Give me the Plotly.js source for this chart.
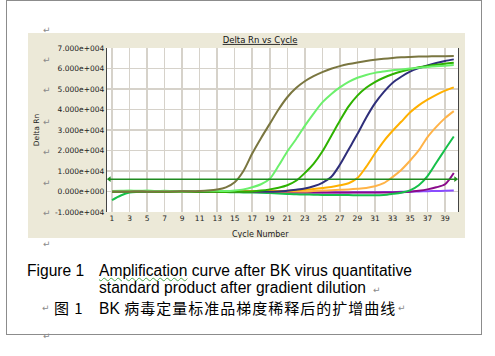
<!DOCTYPE html>
<html>
<head>
<meta charset="utf-8">
<script src="https://cdn.plot.ly/plotly-3.0.1.min.js"></script>
<style>
  html, body { margin:0; padding:0; background:#fff; }
  #page { position:relative; width:495px; height:356px; overflow:hidden; background:#fff; }
  #frame { position:absolute; left:6px; top:0px; width:476px; height:335px; border:1px solid #8c8c8c; box-sizing:border-box; }
  #chart { position:absolute; left:28px; top:33px; width:437px; height:205px; }
  .pm { position:absolute; font-family:"DejaVu Sans"; font-size:9px; color:#8a8a8a; line-height:10px; z-index:5; }
  .cap { position:absolute; font-family:"Liberation Sans", Arial, sans-serif; font-size:15.6px; color:#000; white-space:nowrap; line-height:16px; height:16px; }
  .cjk { font-family:"Noto Sans CJK SC", sans-serif; font-size:15px; letter-spacing:1px; }
  .wavy { text-decoration: underline wavy #4aa84a; text-decoration-thickness:1px; text-underline-offset:1px; }
</style>
</head>
<body>
<div id="page">
  <div id="frame"></div>
  <div id="chart"></div>
  <span class="pm" style="left:43px; top:25px;">↵</span>
  <span class="pm" style="left:43px; top:55px;">↵</span>
  <span class="pm" style="left:43px; top:85px;">↵</span>
  <span class="pm" style="left:43px; top:117px;">↵</span>
  <span class="pm" style="left:43px; top:147px;">↵</span>
  <span class="pm" style="left:43px; top:178px;">↵</span>
  <span class="pm" style="left:43px; top:208px;">↵</span>
  <span class="pm" style="left:43px; top:239px;">↵</span>
  <span class="pm" style="left:43px; top:331px;">↵</span>
  <span class="cap" style="left:27px; top:263px;">Figure 1</span>
  <span class="cap" style="left:99px; top:263px;"><span class="wavy">Amplification</span> curve after BK virus quantitative</span>
  <span class="cap" style="left:99px; top:280px;">standard product after gradient dilution</span>
  <span class="pm" style="left:373px; top:285px;">↵</span>
  <span class="pm" style="left:42px; top:303px;">↵</span>
  <span class="cap cjk" style="left:54px; top:300px;">图 1</span>
  <span class="cap" style="left:99px; top:300px;">BK <span class="cjk">病毒定量标准品梯度稀释后的扩增曲线</span></span>
  <span class="pm" style="left:398px; top:303px;">↵</span>
</div>
<script>
const cycles = [1,2,3,4,5,6,7,8,9,10,11,12,13,14,15,16,17,18,19,20,21,22,23,24,25,26,27,28,29,30,31,32,33,34,35,36,37,38,39,40];

const oliveRn = [0,-50,0,50,0,-50,0,0,50,100,200,400,900,2000,4500,10000,18500,26000,33000,40000,46000,50500,53800,56300,58300,59900,61200,62200,63000,63700,64300,64800,65200,65500,65700,65850,65950,66000,66050,66100];
const lightGreenRn = [200,300,400,300,400,200,300,100,0,100,200,300,300,200,500,1000,2000,3500,6200,12500,19500,25500,32000,38000,43500,47500,50800,53500,55500,56900,57900,58600,59200,59600,60000,60400,60800,61100,61400,61700];
const greenRn = [-100,-50,0,0,-50,-100,-100,-150,-100,-100,-150,-200,-200,-250,-200,-150,0,400,1000,1800,3000,5200,9000,13500,19500,27000,34500,41500,46800,50600,53400,55500,57200,58600,59700,60600,61300,61900,62400,62800];
const navyRn = [0,0,0,0,0,0,0,0,0,0,-100,-100,-100,-200,-200,-200,-200,-200,-200,0,300,800,1400,2500,4200,7000,13000,20500,28000,36000,43000,48500,53000,56000,58500,60200,61500,62700,63700,64500];
const orangeRn = [-100,0,0,0,100,0,0,0,0,0,0,0,0,0,0,100,100,100,200,200,300,500,800,1200,1700,2200,3000,4000,6500,12000,18500,24500,29500,34000,38500,42000,44800,47200,49200,50800];
const lightOrangeRn = [0,0,0,0,0,0,0,0,0,0,0,0,0,0,0,0,0,0,0,0,0,0,0,200,400,600,800,1000,1300,1700,2500,4000,7000,10500,15000,20000,26500,31500,35800,39200];
const lateGreenRn = [-4200,-2000,-500,-200,0,0,0,0,0,0,0,0,-200,-300,-400,-500,-500,-600,-800,-1000,-1200,-1400,-1500,-1600,-1700,-1750,-1800,-1800,-1900,-1900,-1900,-1700,-1200,-600,500,3000,7500,14000,20500,26800];
const purpleRn = [0,0,0,0,0,0,0,0,0,0,0,0,0,0,0,-100,-200,-300,-300,-400,-500,-500,-500,-500,-500,-500,-500,-500,-500,-500,-500,-500,-500,-400,-200,300,1000,2000,3500,9000];
const violetRn = [0,0,0,100,0,0,0,100,0,0,0,0,0,-100,-200,-300,-300,-400,-400,-400,-500,-500,-500,-500,-500,-500,-500,-500,-400,-400,-400,-300,-300,-200,-100,0,100,200,300,400];
const thresholdCycles = [0.7, 40.2];
const thresholdRn = [6000, 6000];

const yTickVals = [-10000,0,10000,20000,30000,40000,50000,60000,70000];
const yTickText = ['-1.000e+004','0.000e+000','1.000e+004','2.000e+004','3.000e+004','4.000e+004','5.000e+004','6.000e+004','7.000e+004'];
const xTickVals = [1,3,5,7,9,11,13,15,17,19,21,23,25,27,29,31,33,35,37,39];
const xTickText = ['1','3','5','7','9','11','13','15','17','19','21','23','25','27','29','31','33','35','37','39'];

const series = [
  {y: violetRn, c:'#8a4cff'},
  {y: purpleRn, c:'#8a0a8a'},
  {y: lateGreenRn, c:'#16c04a'},
  {y: lightOrangeRn, c:'#ffb347'},
  {y: orangeRn, c:'#ffb000'},
  {y: navyRn, c:'#2f2f7a'},
  {y: greenRn, c:'#2eb200'},
  {y: lightGreenRn, c:'#6cf06c'},
  {y: oliveRn, c:'#7a7640'}
];

const traces = series.map(s => ({
  x: cycles, y: s.y, type:'scatter', mode:'lines',
  line:{color:s.c, width:2, shape:'spline', smoothing:0.8}, hoverinfo:'skip'
}));
traces.push({
  x: thresholdCycles, y: thresholdRn, type:'scatter', mode:'lines+markers',
  line:{color:'#1f8a1f', width:1.5},
  marker:{symbol:['triangle-left','triangle-right'], size:5, color:'#1f8a1f'},
  hoverinfo:'skip'
});

const fnt = {family:'DejaVu Sans, Verdana, sans-serif', size:7.5, color:'#222'};

const layout = {
  width:437, height:205,
  paper_bgcolor:'#ece9d8', plot_bgcolor:'#ffffff',
  margin:{l:79, r:7, t:15, b:26},
  showlegend:false,
  title:{text:'<span style="text-decoration:underline">Delta Rn vs Cycle</span>', x:0.531, xref:'container', xanchor:'center', y:0.966, yref:'container', yanchor:'middle', font:{family:'DejaVu Sans, Verdana, sans-serif', size:8.5, color:'#111'}},
  xaxis:{range:[0.43,40.48], tickvals:xTickVals, ticktext:xTickText, showgrid:true, gridcolor:'#d6d2ca', gridwidth:1.5, zeroline:false, showline:false, ticks:'', tickfont:fnt, fixedrange:true},
  yaxis:{range:[-10050,70050], tickvals:yTickVals, ticktext:yTickText, showgrid:true, gridcolor:'#d6d2ca', gridwidth:1.5, zeroline:false, showline:true, linecolor:'#444444', linewidth:1.2, mirror:true, ticks:'', tickfont:fnt, fixedrange:true,
    title:{text:'Delta Rn', font:{family:'DejaVu Sans, Verdana, sans-serif', size:7.5, color:'#222'}, standoff:14}},
  annotations:[
    {text:'Cycle Number', xref:'paper', yref:'paper', x:0.436, y:-0.14, xanchor:'center', yanchor:'middle', showarrow:false, font:{family:'DejaVu Sans, Verdana, sans-serif', size:8, color:'#222'}}
  ]
};

Plotly.newPlot('chart', traces, layout, {staticPlot:true, displayModeBar:false});
</script>
</body>
</html>
